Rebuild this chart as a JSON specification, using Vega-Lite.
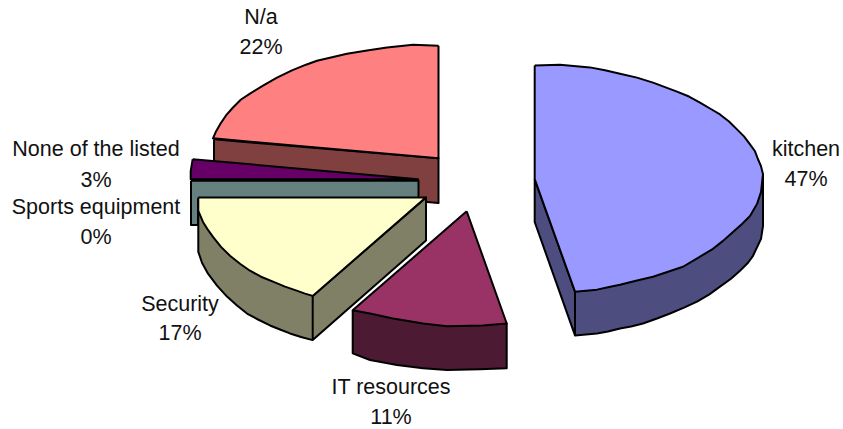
{"$schema":"https://vega.github.io/schema/vega-lite/v6.json","width":843,"height":429,"autosize":{"type":"fit","contains":"padding"},"padding":0,"background":"white","view":{"stroke":null},"layer":[{"data":{"values":[
{"part":"A N/a side","n":1,"x":214,"y":140},{"part":"A N/a side","n":2,"x":214,"y":172},{"part":"A N/a side","n":3,"x":300,"y":190},{"part":"A N/a side","n":4,"x":427,"y":203},{"part":"A N/a side","n":5,"x":438.5,"y":204},{"part":"A N/a side","n":6,"x":438.5,"y":159},{"part":"A N/a side","n":7,"x":214,"y":140},
{"part":"B N/a top","n":1,"x":438.5,"y":46},{"part":"B N/a top","n":2,"x":413,"y":45},{"part":"B N/a top","n":3,"x":387,"y":47.7},{"part":"B N/a top","n":4,"x":367,"y":50.7},{"part":"B N/a top","n":5,"x":347,"y":54},{"part":"B N/a top","n":6,"x":317,"y":61},{"part":"B N/a top","n":7,"x":306,"y":65},{"part":"B N/a top","n":8,"x":292,"y":70.7},{"part":"B N/a top","n":9,"x":277,"y":78},{"part":"B N/a top","n":10,"x":263,"y":86},{"part":"B N/a top","n":11,"x":250,"y":94},{"part":"B N/a top","n":12,"x":241,"y":100},{"part":"B N/a top","n":13,"x":233,"y":108},{"part":"B N/a top","n":14,"x":226,"y":116},{"part":"B N/a top","n":15,"x":220,"y":125},{"part":"B N/a top","n":16,"x":216,"y":132},{"part":"B N/a top","n":17,"x":213,"y":139},{"part":"B N/a top","n":18,"x":438.5,"y":159},{"part":"B N/a top","n":19,"x":438.5,"y":46},
{"part":"C None","n":1,"x":192.7,"y":160},{"part":"C None","n":2,"x":418,"y":180},{"part":"C None","n":3,"x":190.7,"y":180},{"part":"C None","n":4,"x":190.7,"y":172},{"part":"C None","n":5,"x":192.7,"y":160},
{"part":"D Sports","n":1,"x":191,"y":181.5},{"part":"D Sports","n":2,"x":418.5,"y":181.5},{"part":"D Sports","n":3,"x":418.5,"y":200},{"part":"D Sports","n":4,"x":198,"y":200},{"part":"D Sports","n":5,"x":198,"y":226},{"part":"D Sports","n":6,"x":191,"y":226},{"part":"D Sports","n":7,"x":191,"y":181.5},
{"part":"E Security side","n":1,"x":198.3,"y":212},{"part":"E Security side","n":2,"x":198.3,"y":253},{"part":"E Security side","n":3,"x":202,"y":264},{"part":"E Security side","n":4,"x":208,"y":275},{"part":"E Security side","n":5,"x":217,"y":287},{"part":"E Security side","n":6,"x":227,"y":298},{"part":"E Security side","n":7,"x":237,"y":307},{"part":"E Security side","n":8,"x":247,"y":315},{"part":"E Security side","n":9,"x":258,"y":321},{"part":"E Security side","n":10,"x":270,"y":327},{"part":"E Security side","n":11,"x":280,"y":331},{"part":"E Security side","n":12,"x":290,"y":335},{"part":"E Security side","n":13,"x":301,"y":338.5},{"part":"E Security side","n":14,"x":312.7,"y":341.7},{"part":"E Security side","n":15,"x":426,"y":241.7},{"part":"E Security side","n":16,"x":426,"y":198.3},{"part":"E Security side","n":17,"x":312.7,"y":297.3},{"part":"E Security side","n":18,"x":312.7,"y":341.7},{"part":"E Security side","n":19,"x":312.7,"y":297.3},{"part":"E Security side","n":20,"x":198.3,"y":212},
{"part":"F Security top","n":1,"x":198.3,"y":198.3},{"part":"F Security top","n":2,"x":426,"y":198.3},{"part":"F Security top","n":3,"x":312.7,"y":297.3},{"part":"F Security top","n":4,"x":305,"y":295},{"part":"F Security top","n":5,"x":296.7,"y":292},{"part":"F Security top","n":6,"x":285,"y":288},{"part":"F Security top","n":7,"x":273,"y":283},{"part":"F Security top","n":8,"x":261,"y":278},{"part":"F Security top","n":9,"x":250,"y":272},{"part":"F Security top","n":10,"x":240,"y":265},{"part":"F Security top","n":11,"x":230,"y":257},{"part":"F Security top","n":12,"x":221,"y":248},{"part":"F Security top","n":13,"x":213,"y":238},{"part":"F Security top","n":14,"x":208,"y":231},{"part":"F Security top","n":15,"x":203,"y":223},{"part":"F Security top","n":16,"x":198.3,"y":212},{"part":"F Security top","n":17,"x":198.3,"y":198.3},
{"part":"G IT side","n":1,"x":352.7,"y":311.7},{"part":"G IT side","n":2,"x":352.7,"y":355},{"part":"G IT side","n":3,"x":370,"y":361.7},{"part":"G IT side","n":4,"x":397,"y":366.7},{"part":"G IT side","n":5,"x":423,"y":370},{"part":"G IT side","n":6,"x":447,"y":371.7},{"part":"G IT side","n":7,"x":480,"y":371},{"part":"G IT side","n":8,"x":506.7,"y":370},{"part":"G IT side","n":9,"x":506.7,"y":325},{"part":"G IT side","n":10,"x":352.7,"y":311.7},
{"part":"H IT top","n":1,"x":466.7,"y":212.3},{"part":"H IT top","n":2,"x":506.7,"y":325},{"part":"H IT top","n":3,"x":483,"y":327},{"part":"H IT top","n":4,"x":447,"y":327.7},{"part":"H IT top","n":5,"x":423,"y":325},{"part":"H IT top","n":6,"x":393,"y":320},{"part":"H IT top","n":7,"x":370,"y":315},{"part":"H IT top","n":8,"x":352.7,"y":311.7},{"part":"H IT top","n":9,"x":466.7,"y":212.3},
{"part":"I kitchen side","n":1,"x":534.7,"y":180},{"part":"I kitchen side","n":2,"x":534.7,"y":223},{"part":"I kitchen side","n":3,"x":575,"y":337},{"part":"I kitchen side","n":4,"x":586,"y":336},{"part":"I kitchen side","n":5,"x":597,"y":335},{"part":"I kitchen side","n":6,"x":608,"y":333},{"part":"I kitchen side","n":7,"x":620,"y":330},{"part":"I kitchen side","n":8,"x":631,"y":328},{"part":"I kitchen side","n":9,"x":643,"y":325},{"part":"I kitchen side","n":10,"x":657,"y":320},{"part":"I kitchen side","n":11,"x":670,"y":315},{"part":"I kitchen side","n":12,"x":684,"y":309},{"part":"I kitchen side","n":13,"x":697,"y":303},{"part":"I kitchen side","n":14,"x":709,"y":296},{"part":"I kitchen side","n":15,"x":720,"y":288},{"part":"I kitchen side","n":16,"x":731,"y":280},{"part":"I kitchen side","n":17,"x":740,"y":272},{"part":"I kitchen side","n":18,"x":748,"y":264},{"part":"I kitchen side","n":19,"x":753,"y":257},{"part":"I kitchen side","n":20,"x":761,"y":240},{"part":"I kitchen side","n":21,"x":763,"y":227},{"part":"I kitchen side","n":22,"x":763,"y":175},{"part":"I kitchen side","n":23,"x":575,"y":293},{"part":"I kitchen side","n":24,"x":575,"y":337},{"part":"I kitchen side","n":25,"x":575,"y":293},{"part":"I kitchen side","n":26,"x":534.7,"y":180},
{"part":"J kitchen top","n":1,"x":534.7,"y":65.7},{"part":"J kitchen top","n":2,"x":560,"y":65},{"part":"J kitchen top","n":3,"x":590,"y":67.7},{"part":"J kitchen top","n":4,"x":605,"y":70.5},{"part":"J kitchen top","n":5,"x":620,"y":74},{"part":"J kitchen top","n":6,"x":637,"y":78},{"part":"J kitchen top","n":7,"x":653,"y":83},{"part":"J kitchen top","n":8,"x":665,"y":87.5},{"part":"J kitchen top","n":9,"x":677,"y":92},{"part":"J kitchen top","n":10,"x":689,"y":97},{"part":"J kitchen top","n":11,"x":700,"y":103},{"part":"J kitchen top","n":12,"x":710,"y":109},{"part":"J kitchen top","n":13,"x":720,"y":115},{"part":"J kitchen top","n":14,"x":729,"y":122},{"part":"J kitchen top","n":15,"x":737,"y":130},{"part":"J kitchen top","n":16,"x":744,"y":137},{"part":"J kitchen top","n":17,"x":750,"y":145},{"part":"J kitchen top","n":18,"x":755,"y":152},{"part":"J kitchen top","n":19,"x":758,"y":160},{"part":"J kitchen top","n":20,"x":761,"y":167},{"part":"J kitchen top","n":21,"x":763,"y":175},{"part":"J kitchen top","n":22,"x":761,"y":193},{"part":"J kitchen top","n":23,"x":757,"y":205},{"part":"J kitchen top","n":24,"x":750,"y":217},{"part":"J kitchen top","n":25,"x":742,"y":225},{"part":"J kitchen top","n":26,"x":733,"y":233},{"part":"J kitchen top","n":27,"x":723,"y":242},{"part":"J kitchen top","n":28,"x":713,"y":250},{"part":"J kitchen top","n":29,"x":698,"y":259},{"part":"J kitchen top","n":30,"x":683,"y":268},{"part":"J kitchen top","n":31,"x":668,"y":273},{"part":"J kitchen top","n":32,"x":653,"y":278},{"part":"J kitchen top","n":33,"x":636,"y":282},{"part":"J kitchen top","n":34,"x":620,"y":286},{"part":"J kitchen top","n":35,"x":608,"y":288.5},{"part":"J kitchen top","n":36,"x":597,"y":291},{"part":"J kitchen top","n":37,"x":586,"y":292},{"part":"J kitchen top","n":38,"x":575,"y":293},{"part":"J kitchen top","n":39,"x":534.7,"y":180},{"part":"J kitchen top","n":40,"x":534.7,"y":65.7}
]},"mark":{"type":"line","stroke":"black","strokeWidth":2,"strokeJoin":"round","interpolate":"linear"},"encoding":{"x":{"field":"x","type":"quantitative","scale":{"domain":[0,843],"nice":false,"zero":false},"axis":null},"y":{"field":"y","type":"quantitative","scale":{"domain":[429,0],"nice":false,"zero":false},"axis":null},"order":{"field":"n","type":"quantitative"},"detail":{"field":"part"},"fill":{"field":"part","type":"nominal","legend":null,"scale":{"domain":["A N/a side","B N/a top","C None","D Sports","E Security side","F Security top","G IT side","H IT top","I kitchen side","J kitchen top"],"range":["#804040","#FF8080","#660066","#668080","#808066","#FFFFCC","#4D1A33","#993366","#4D4D80","#9999FF"]}}}},
{"data":{"values":[
{"label":"N/a","x":261,"y":24},{"label":"22%","x":261,"y":54},{"label":"None of the listed","x":96,"y":157},{"label":"3%","x":96,"y":188},{"label":"Sports equipment","x":96,"y":215},{"label":"0%","x":96,"y":245},{"label":"Security","x":180,"y":312.7},{"label":"17%","x":180,"y":342},{"label":"IT resources","x":391,"y":396},{"label":"11%","x":391,"y":426},{"label":"kitchen","x":806,"y":157},{"label":"47%","x":806,"y":187}
]},"mark":{"type":"text","font":"Liberation Sans","fontSize":21.5,"align":"center","baseline":"alphabetic","color":"#111111"},"encoding":{"x":{"field":"x","type":"quantitative","scale":{"domain":[0,843],"nice":false,"zero":false},"axis":null},"y":{"field":"y","type":"quantitative","scale":{"domain":[429,0],"nice":false,"zero":false},"axis":null},"text":{"field":"label"}}}
]}
